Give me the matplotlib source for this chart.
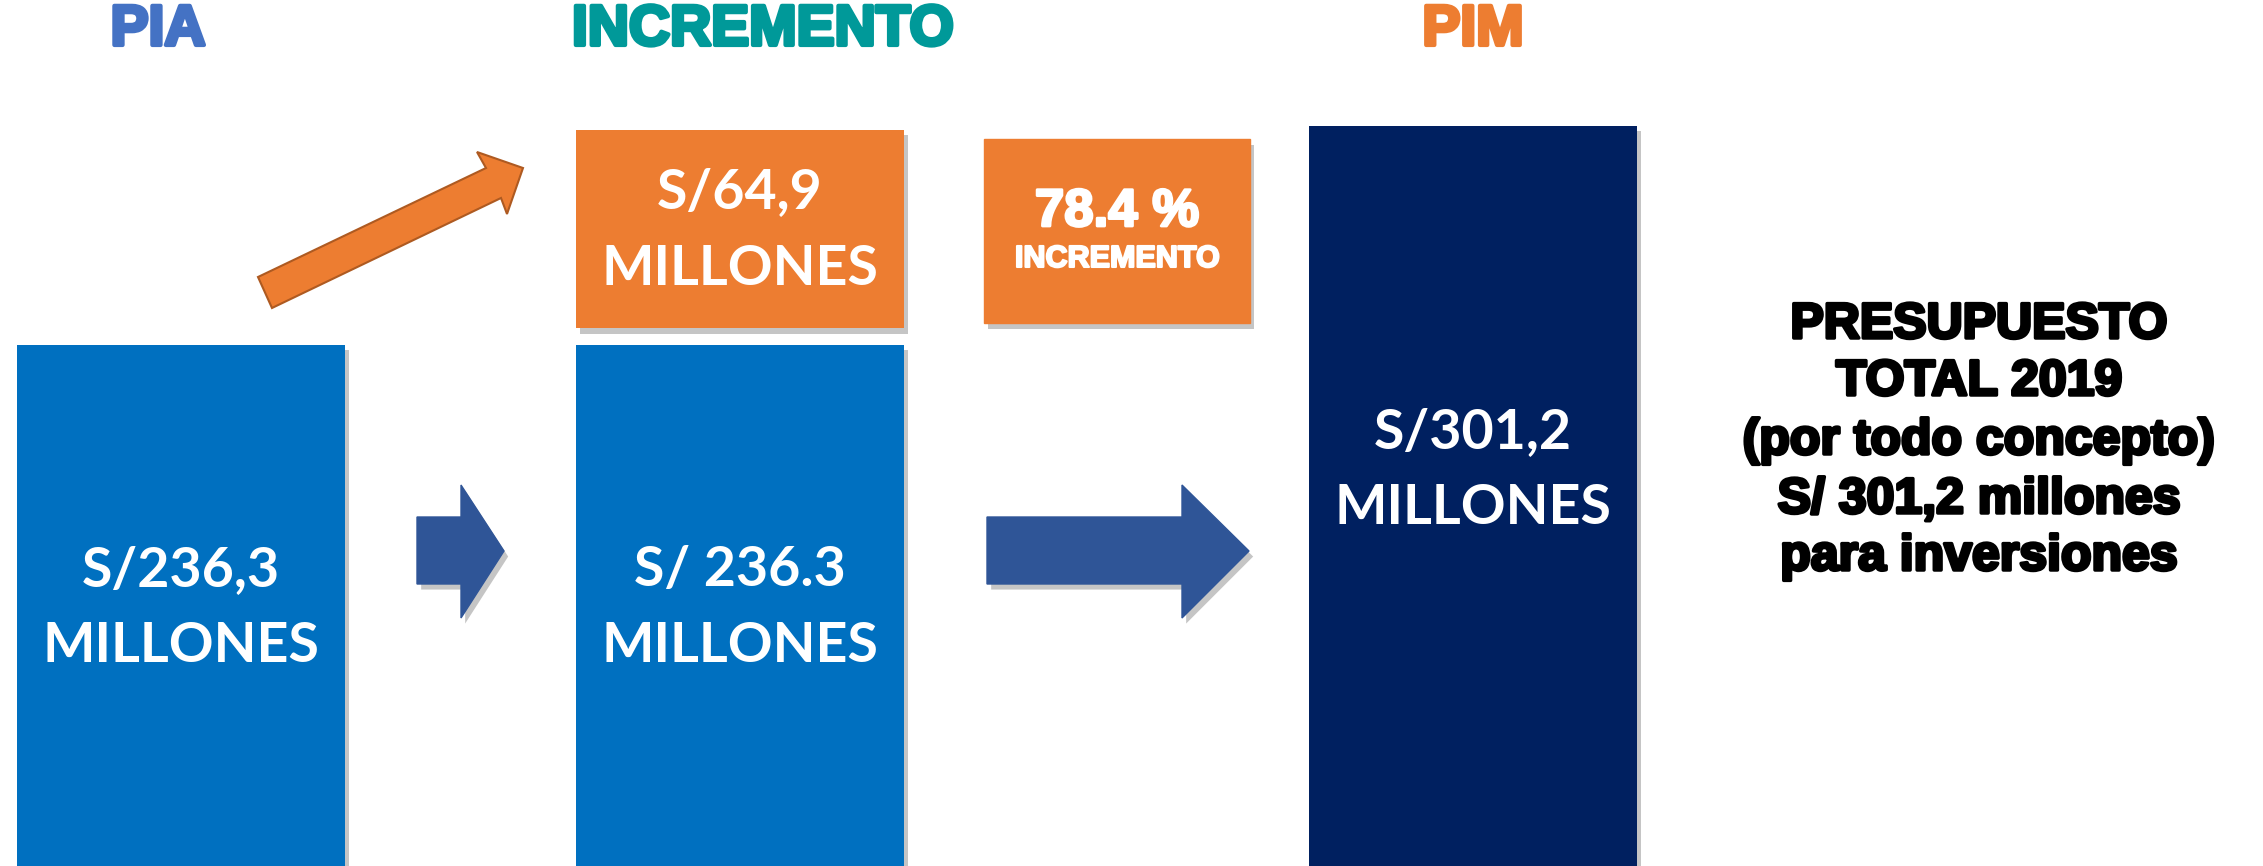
import matplotlib
matplotlib.use("Agg")
import matplotlib.pyplot as plt
from matplotlib.patches import Polygon, Rectangle
import matplotlib.patheffects as pe

# ---- data (millones de soles) ----
pia = 236.3
incremento = 64.9
pim = pia + incremento          # 301.2
pct_incremento = 78.4

titles = ["PIA", "INCREMENTO", "PIM"]
bar_labels = ["S/236,3\nMILLONES", "S/ 236.3\nMILLONES", "S/301,2\nMILLONES"]
inc_label = "S/64,9\nMILLONES"
side_lines = ["PRESUPUESTO", "TOTAL 2019", "(por todo concepto)",
              "S/ 301,2 millones", "para inversiones"]

# ---- style ----
W, H = 2263, 866
BLUE = "#0070C0"
NAVY = "#002060"
ORANGE = "#ED7D31"
ARROW_BLUE = "#2F5597"
TITLE_COLORS = ["#4472C4", "#009999", ORANGE]
shadow = [pe.SimplePatchShadow(offset=(3, -4), shadow_rgbFace="#7f7f7f", alpha=0.45), pe.Normal()]


def heavy(color, lw):
    # fake "Arial Black" by stroking the glyphs in their own colour
    return [pe.withStroke(linewidth=lw, foreground=color)]


fig = plt.figure(figsize=(W / 100, H / 100), dpi=100)

# value axes: bars drawn in data units
ax = fig.add_axes([0, 0, 1, 1])
ax.set_xlim(0, W)
ax.set_ylim(81.9, 338.5)
ax.axis("off")

bar_x = [181, 740, 1472.5]
bar_w = 328
b1 = ax.bar(bar_x[0], pia, width=bar_w, color=BLUE)
b2 = ax.bar(bar_x[1], pia, width=bar_w, color=BLUE)
b3 = ax.bar(bar_x[1], incremento - 6.2, bottom=pia + 5.0, width=bar_w, color=ORANGE)
b4 = ax.bar(bar_x[2], pim, width=bar_w, color=NAVY)
for bars in (b1, b2, b3, b4):
    for p in bars:
        p.set_path_effects(shadow)

# overlay in pixel coords for text and arrows
ov = fig.add_axes([0, 0, 1, 1], facecolor="none")
ov.set_xlim(0, W)
ov.set_ylim(H, 0)
ov.axis("off")

# titles
for x, t, c in zip([158, 763, 1473], titles, TITLE_COLORS):
    ov.text(x, 30, t, color=c, fontsize=41, fontweight="bold",
            family="Liberation Sans", ha="center", va="center",
            path_effects=heavy(c, 3))

# bar labels
lab_kw = dict(color="white", fontsize=40, fontweight="bold", family="Lato",
              ha="center", va="center")
for (x, y1, y2), lab in zip([(181, 570, 646), (740, 570, 646), (1473, 432, 508)], bar_labels):
    top, bot = lab.split("\n")
    ov.text(x, y1, top, **lab_kw)
    ov.text(x, y2, bot, **lab_kw)
top, bot = inc_label.split("\n")
ov.text(740, 192, top, **lab_kw)
ov.text(740, 269, bot, **lab_kw)

# percentage box
ov.add_patch(Rectangle((984, 139), 266, 184, color=ORANGE, path_effects=shadow))
ov.text(1117, 212, f"{pct_incremento} %", color="white", fontsize=38, fontweight="bold",
        family="Liberation Sans", ha="center", va="center", path_effects=heavy("white", 2))
ov.text(1117, 259, "INCREMENTO", color="white", fontsize=22, fontweight="bold",
        family="Liberation Sans", ha="center", va="center", path_effects=heavy("white", 1.5))

# arrows
small = [(417, 517), (461, 517), (461, 485), (504, 551), (461, 618), (461, 584), (417, 584)]
big = [(987, 517), (1182, 517), (1182, 485), (1249, 551), (1182, 618), (1182, 584), (987, 584)]
for pts in (small, big):
    ov.add_patch(Polygon(pts, closed=True, color=ARROW_BLUE, path_effects=shadow))
diag = [(258, 277), (486, 168), (477, 152), (523, 168), (507, 214), (501, 198), (272, 308)]
ov.add_patch(Polygon(diag, closed=True, facecolor=ORANGE, edgecolor="#AE5A21", linewidth=1.5))

# side text
for y, line in zip([325, 382, 441, 500, 557], side_lines):
    ov.text(1979, y, line, color="black", fontsize=36, fontweight="bold",
            family="Liberation Sans", ha="center", va="center",
            path_effects=heavy("black", 2.5))

fig.savefig("out.png", dpi=100)
